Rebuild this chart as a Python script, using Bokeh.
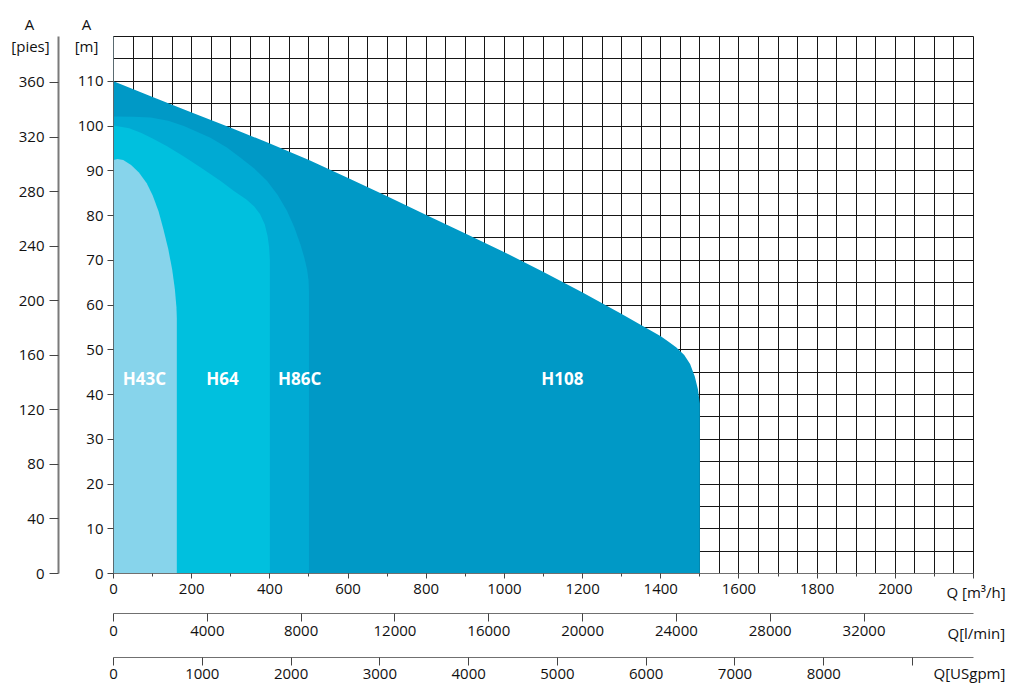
from bokeh.plotting import figure
from bokeh.models import LinearAxis, Range1d, FixedTicker, Label, ColumnDataSource, Grid
from bokeh.embed import file_html
from bokeh.resources import INLINE
from bokeh.core.properties import value

# ---------------- data (Q in m3/h, H in m) ----------------
h108_q = [0, 100, 200, 300, 400, 500, 600, 700, 800, 900, 1000, 1100, 1200, 1300, 1400,
          1420, 1440, 1460, 1475, 1487, 1495, 1500, 1500]
h108_h = [110, 106.5, 103, 99.6, 96.1, 92.4, 88.4, 84.3, 80.1, 76, 71.8, 67.4, 62.8, 58, 53,
          51.8, 50.5, 48.8, 46.8, 44, 41.2, 38, 0]

h86_q = [0, 50, 95, 140, 180, 248, 290, 325, 360, 393, 420, 444, 462, 478, 488, 495, 499, 500, 500]
h86_h = [102.1, 102.05, 101.9, 101.2, 100, 97.4, 95.2, 92.9, 90.5, 87.7, 84.6, 81, 77.5, 73.6,
         70.6, 68, 65.5, 63, 0]

h64_q = [0, 40, 70, 100, 137, 180, 223, 274, 308, 340, 360, 375, 387, 394, 398, 400, 400]
h64_h = [100.1, 99.5, 98.5, 97.2, 95.5, 93.2, 90.7, 87.7, 85.5, 83.6, 82, 80.3, 78, 75.5, 73, 70, 0]

h43_q = [0, 10, 25, 45, 65, 85, 100, 115, 128, 140, 150, 157, 161, 162, 162]
h43_h = [92.4, 92.6, 92.4, 91.3, 89.6, 87.2, 84.5, 81, 76.8, 72.5, 68, 63.5, 59.5, 57, 0]

model_names = ["H43C", "H64", "H86C", "H108"]
label_q = [79, 279, 476, 1148]
label_h = [43.5, 43.5, 43.5, 43.5]

q_ticks = list(range(0, 2201, 200))
q_minor = list(range(100, 2101, 100))
h_ticks = list(range(0, 111, 10))
ft_ticks = list(range(0, 361, 40))
lmin_ticks = list(range(0, 32001, 4000))
gpm_ticks = list(range(0, 9001, 1000))

Q_MAX = 2200
H_MAX = 120
FT_PER_M = 3.28084
LMIN_PER_M3H = 1000.0 / 60.0
GPM_PER_M3H = 4.402868

FONT = "Open Sans"
TICK_FS = "15px"

# ---------------- layout (pixels of the canvas) ----------------
W, HGT = 1009, 684
PX_Q0, PX_QMAX = 113, 973     # frame of the chart grid
PX_H0, PX_HMAX = 573, 36
sx = (PX_QMAX - PX_Q0) / Q_MAX
sy = (PX_H0 - PX_HMAX) / H_MAX


def qx(px):
    return (px - PX_Q0) / sx


def hy(py):
    return (PX_H0 - py) / sy


x0, x1 = qx(0), qx(W)
y0, y1 = hy(HGT), hy(0)

p = figure(width=W, height=HGT, output_backend="svg", toolbar_location=None,
           x_range=Range1d(x0, x1), y_range=Range1d(y0, y1),
           min_border=0, min_border_left=0, min_border_right=0,
           min_border_top=0, min_border_bottom=0)
p.title.visible = False
p.outline_line_color = None
p.background_fill_color = "white"
p.border_fill_color = "white"

# grid
p.xgrid.ticker = FixedTicker(ticks=list(range(0, Q_MAX + 1, 50)))
p.ygrid.ticker = FixedTicker(ticks=list(range(0, H_MAX + 1, 5)))
p.xgrid.bounds = (0, Q_MAX)
p.ygrid.bounds = (0, H_MAX)
if "cross_bounds" in Grid.properties():
    p.xgrid.cross_bounds = (0, H_MAX)
    p.ygrid.cross_bounds = (0, Q_MAX)
    for g in (p.xgrid, p.ygrid):
        g.grid_line_color = "#161616"
        g.grid_line_width = 1
else:
    for g in (p.xgrid, p.ygrid):
        g.visible = False
    gx = list(range(0, Q_MAX + 1, 50))
    gy = list(range(0, H_MAX + 1, 5))
    p.segment(x0=gx, y0=[0] * len(gx), x1=gx, y1=[H_MAX] * len(gx),
              line_color="#161616", line_width=1, level="underlay")
    p.segment(x0=[0] * len(gy), y0=gy, x1=[Q_MAX] * len(gy), y1=gy,
              line_color="#161616", line_width=1, level="underlay")

# areas
colors = {"H108": "#0099c6", "H86C": "#00aad3", "H64": "#00c0de", "H43C": "#87d4eb"}
p.varea(x=h108_q, y1=[0] * len(h108_q), y2=h108_h, fill_color=colors["H108"])
p.varea(x=h86_q, y1=[0] * len(h86_q), y2=h86_h, fill_color=colors["H86C"])
p.varea(x=h64_q, y1=[0] * len(h64_q), y2=h64_h, fill_color=colors["H64"])
p.varea(x=h43_q, y1=[0] * len(h43_q), y2=h43_h, fill_color=colors["H43C"])

src = ColumnDataSource(dict(x=label_q, y=label_h, t=model_names))
p.text(x="x", y="y", text="t", source=src, text_color="white", text_font=value(FONT),
       text_font_style="bold", text_font_size="17px", text_align="center", text_baseline="middle")


def style_axis(ax, tick_out, standoff, line_color="#707070", line_width=1):
    ax.major_label_text_font = FONT
    ax.major_label_text_font_size = TICK_FS
    ax.major_label_text_color = "#111111"
    ax.axis_line_color = line_color
    ax.axis_line_width = line_width
    ax.major_tick_line_color = "#444444"
    ax.major_tick_in = 0
    ax.major_tick_out = tick_out
    ax.minor_tick_in = 0
    ax.minor_tick_out = 0
    ax.major_label_standoff = standoff


# --- main y axis (m)
ym = p.yaxis[0]
ym.ticker = FixedTicker(ticks=h_ticks)
ym.fixed_location = 0
ym.bounds = (0, H_MAX)
style_axis(ym, 6, 4, line_color="#5a6a70")

# --- feet axis
p.extra_y_ranges = {"ft": Range1d(y0 * FT_PER_M, y1 * FT_PER_M)}
yft = LinearAxis(y_range_name="ft", ticker=FixedTicker(ticks=ft_ticks))
yft.fixed_location = qx(58)
yft.bounds = (0, H_MAX * FT_PER_M)
style_axis(yft, 9, 5, line_color="#7a7a7a", line_width=2)
p.add_layout(yft, "left")

# --- main x axis (m3/h)
xm = p.xaxis[0]
xm.ticker = FixedTicker(ticks=q_ticks, minor_ticks=q_minor)
xm.major_label_overrides = {Q_MAX: ""}
xm.fixed_location = 0
xm.bounds = (0, Q_MAX)
style_axis(xm, 5, 5)
xm.minor_tick_out = 3
xm.minor_tick_line_color = "#444444"

# --- l/min and USgpm axes
p.extra_x_ranges = {"lmin": Range1d(x0 * LMIN_PER_M3H, x1 * LMIN_PER_M3H),
                    "gpm": Range1d(x0 * GPM_PER_M3H, x1 * GPM_PER_M3H)}
xl = LinearAxis(x_range_name="lmin", ticker=FixedTicker(ticks=lmin_ticks))
xl.fixed_location = hy(613)
xl.bounds = (0, Q_MAX * LMIN_PER_M3H)
style_axis(xl, 8, 4)
p.add_layout(xl, "below")

xg = LinearAxis(x_range_name="gpm", ticker=FixedTicker(ticks=gpm_ticks))
xg.major_label_overrides = {9000: ""}
xg.fixed_location = hy(657)
xg.bounds = (0, Q_MAX * GPM_PER_M3H)
style_axis(xg, 8, 3)
p.add_layout(xg, "below")


# --- axis titles
def lab(text, px, py, align="center"):
    p.add_layout(Label(x=qx(px), y=hy(py), text=text, text_font=FONT,
                       text_font_size=TICK_FS, text_color="#111111", text_align=align,
                       text_baseline="middle"))


lab("A", 86, 23.5)
lab("[m]", 86, 45)
lab("A", 29, 23.5)
lab("[pies]", 30, 45)
lab("Q [m³/h]", 946, 591, align="left")
lab("Q[l/min]", 947, 632, align="left")
lab("Q[USgpm]", 933, 672, align="left")

open("out.html", "w").write(file_html(p, INLINE))
